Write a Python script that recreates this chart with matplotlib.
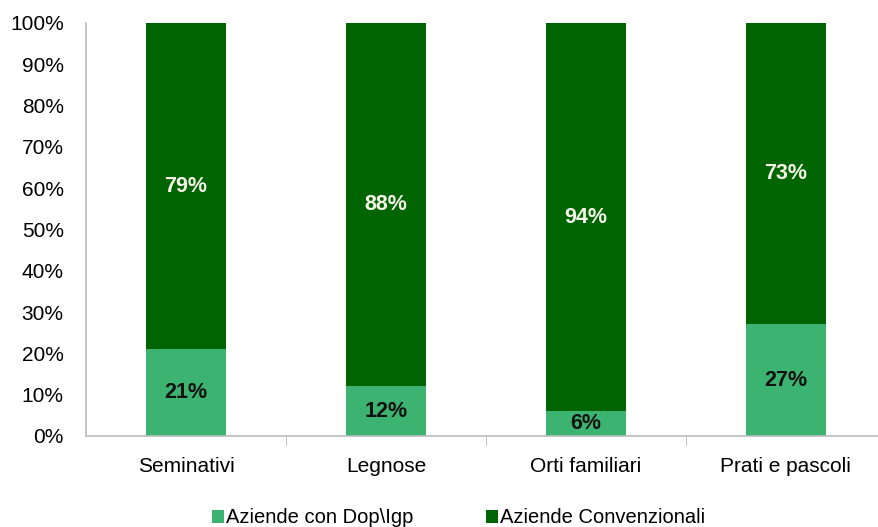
import numpy as np
import matplotlib.pyplot as plt

plt.rcParams['font.family'] = ['Liberation Sans', 'DejaVu Sans']

# dati
categorie = ['Seminativi', 'Legnose', 'Orti familiari', 'Prati e pascoli']
dop_igp = [21, 12, 6, 27]
convenzionali = [79, 88, 94, 73]
serie = ['Aziende con Dop\\Igp', 'Aziende Convenzionali']
colori = ['#3CB371', '#006400']

fig = plt.figure(figsize=(8.79, 5.27), dpi=100)
ax = fig.add_axes([0.0978, 0.1727, 0.910, 0.7837])

x = np.arange(len(categorie))
b1 = ax.bar(x, dop_igp, width=0.4, color=colori[0], label=serie[0])
b2 = ax.bar(x, convenzionali, width=0.4, bottom=dop_igp, color=colori[1], label=serie[1])

for i in range(len(categorie)):
    ax.text(x[i], dop_igp[i] / 2, f'{dop_igp[i]}%', ha='center', va='center',
            fontsize=15.5, fontweight='bold', color='#111111')
    ax.text(x[i], dop_igp[i] + convenzionali[i] / 2, f'{convenzionali[i]}%', ha='center',
            va='center', fontsize=15.5, fontweight='bold', color='#F5F5E8')

ax.set_xlim(-0.5, 3.5)
ax.set_ylim(0, 100)
ax.set_yticks(np.arange(0, 101, 10))
ax.set_yticklabels([f'{v}%' for v in range(0, 101, 10)], fontsize=15)
ax.set_xticks(x)
ax.set_xticklabels(categorie, fontsize=15)
ax.set_xticks([0.5, 1.5, 2.5], minor=True)
ax.tick_params(axis='x', which='major', length=0, pad=15)
ax.tick_params(axis='x', which='minor', length=7, color='#BBBBBB')
ax.tick_params(axis='y', length=0, pad=16)

for s in ['top', 'right']:
    ax.spines[s].set_visible(False)
for s in ['left', 'bottom']:
    ax.spines[s].set_color('#BBBBBB')
    ax.spines[s].set_linewidth(1.2)

fig.legend(handles=[b1, b2], labels=serie, loc='lower center', bbox_to_anchor=(0.522, -0.035),
           ncol=2, frameon=False, fontsize=14.5, handlelength=0.6, handleheight=0.6,
           handletextpad=0.1, columnspacing=3.6)

plt.savefig('out.png', dpi=100)
